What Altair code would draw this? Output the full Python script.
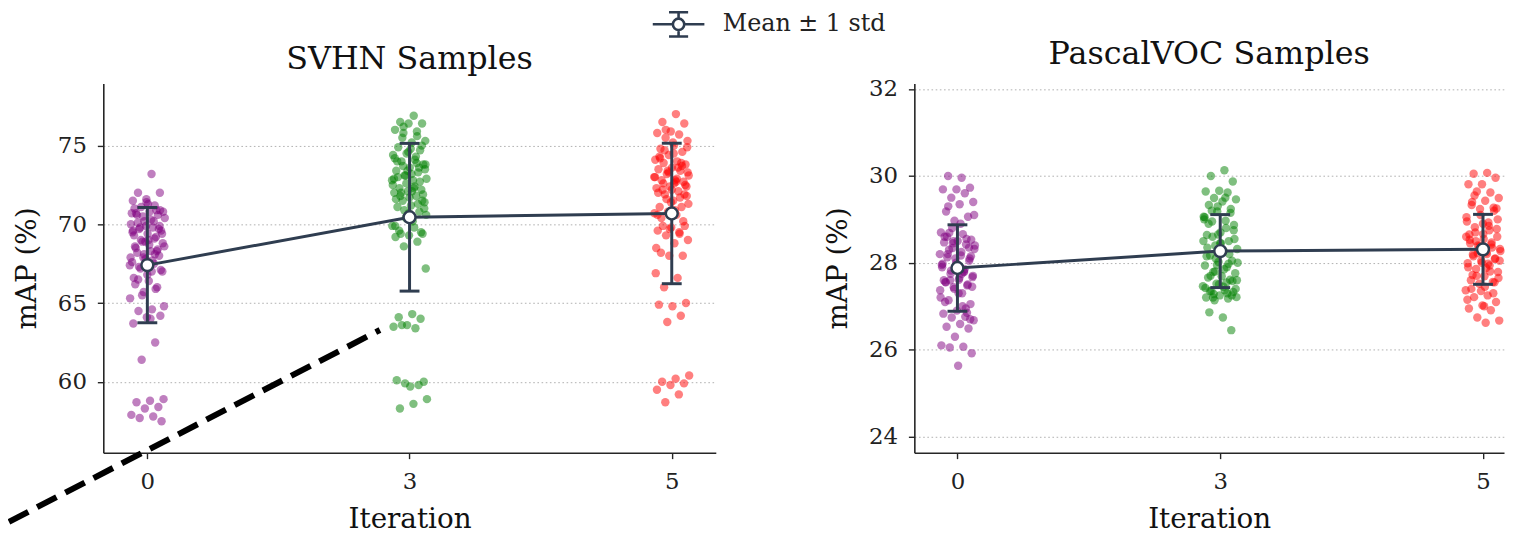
import altair as alt
import pandas as pd

# ---------------- data ----------------
iterations = ["0", "3", "5"]
point_colors = ["#800080", "#008000", "#ff0000"]

svhn_it0 = [73.2, 72.0, 72.0, 71.6, 71.5, 71.2, 71.1, 70.8, 70.8, 70.7, 70.6, 70.2, 70.0, 69.8, 69.7,
            69.6, 69.4, 69.3, 69.2, 68.9, 68.6, 68.3, 68.2, 68.0, 67.8, 67.6, 67.5, 67.2, 67.0, 66.4,
            66.2, 66.0, 65.7, 65.3, 64.6, 64.5, 64.2, 64.1, 63.7, 62.5, 61.4, 58.9, 58.8, 58.7, 58.4,
            58.3, 57.9, 57.8, 57.7, 57.5, 71.3, 71.0, 70.9, 70.5, 70.4, 70.3, 70.1, 69.9, 69.9, 69.5,
            69.1, 69.0, 68.8, 68.7, 68.5, 68.4, 68.1, 67.9, 67.7, 67.3, 67.1, 66.8, 66.6, 65.9, 65.5,
            64.8, 64.0, 70.6, 69.7, 68.9, 70.7, 70.2, 69.8, 69.4, 69.0, 68.6, 68.3, 67.9, 67.4, 67.0,
            66.5, 70.9, 71.4, 69.6, 68.1]
svhn_it3 = [76.9, 76.5, 76.4, 76.4, 76.0, 75.9, 75.8, 75.3, 75.2, 74.9, 74.7, 74.5, 74.4, 74.1, 74.0,
            73.8, 73.6, 73.4, 73.3, 73.1, 72.9, 72.8, 72.3, 72.2, 72.1, 72.0, 71.8, 71.5, 71.4, 71.2,
            71.1, 70.8, 70.4, 69.9, 69.8, 69.4, 69.4, 69.3, 69.2, 68.9, 68.6, 67.2, 64.3, 64.1, 64.0,
            63.6, 63.5, 63.4, 63.6, 60.0, 59.7, 60.1, 59.8, 59.9, 58.9, 58.6, 58.3, 75.0, 74.6, 74.2,
            73.9, 73.7, 73.5, 73.2, 73.0, 72.7, 72.6, 72.5, 72.4, 72.0, 71.9, 71.7, 71.6, 71.3, 70.9,
            70.6, 70.2, 69.6, 69.5, 73.4, 72.9, 74.3, 75.5, 71.0, 74.8, 74.0, 73.6, 73.1, 72.8, 72.3,
            71.8, 71.5, 70.7, 69.9, 75.6, 76.2, 73.8, 72.1]
svhn_it5 = [77.0, 76.5, 76.4, 75.9, 75.8, 75.7, 75.5, 75.3, 75.0, 74.8, 74.6, 74.4, 74.1, 74.0, 73.9,
            73.8, 73.6, 73.5, 73.4, 73.2, 73.1, 72.8, 72.8, 72.7, 72.4, 72.3, 72.1, 71.9, 71.8, 71.5,
            71.1, 71.1, 70.8, 70.7, 70.6, 69.9, 69.9, 69.8, 69.6, 69.4, 69.3, 69.0, 68.8, 68.2, 68.0,
            68.0, 66.9, 66.6, 66.0, 65.0, 64.8, 64.9, 64.2, 63.8, 60.4, 60.2, 60.0, 59.9, 59.8, 59.5,
            59.2, 58.7, 74.9, 74.5, 74.2, 73.7, 73.3, 73.0, 72.9, 72.6, 72.5, 72.2, 72.0, 71.7, 71.6,
            71.3, 70.9, 70.4, 70.2, 69.7, 68.5, 73.6, 74.7, 72.4, 75.2, 74.3, 73.9, 73.4, 73.0, 72.7,
            72.2, 71.9, 71.4, 70.6, 69.5, 76.0, 73.3, 72.6]

voc_it0 = [29.96, 30.0, 29.73, 29.69, 29.69, 29.6, 29.5, 29.4, 29.35, 29.18, 29.06, 28.97, 28.7, 28.66,
           28.69, 28.53, 28.5, 28.47, 28.42, 28.34, 28.32, 28.17, 28.13, 28.05, 27.94, 27.9, 27.79,
           27.75, 27.67, 27.61, 27.56, 27.48, 27.44, 27.37, 27.3, 27.14, 27.05, 26.9, 26.83, 26.76,
           26.74, 26.68, 26.59, 26.53, 26.49, 26.3, 26.1, 26.07, 26.05, 25.92, 25.63, 28.6, 28.55,
           28.45, 28.4, 28.25, 28.2, 28.1, 28.0, 27.98, 27.85, 27.82, 27.7, 27.65, 27.55, 27.5, 27.4,
           27.2, 27.0, 28.3, 28.15, 27.88, 27.6, 26.95, 28.8, 29.1, 28.9, 28.6, 28.35, 28.1, 27.95,
           27.8, 27.6, 27.45, 27.3, 27.1, 26.85, 28.5, 28.2, 27.75, 29.3, 26.7]
voc_it3 = [30.13, 30.0, 29.87, 29.66, 29.64, 29.62, 29.49, 29.46, 29.41, 29.33, 29.24, 29.18, 29.06,
           28.97, 28.95, 28.87, 28.7, 28.64, 28.5, 28.4, 28.32, 28.28, 28.17, 28.05, 28.02, 27.94,
           27.9, 27.79, 27.76, 27.69, 27.66, 27.61, 27.52, 27.46, 27.37, 27.35, 27.33, 27.25, 27.2,
           27.18, 27.14, 27.21, 26.74, 26.86, 26.45, 29.3, 29.0, 28.8, 28.6, 28.55, 28.45, 28.35,
           28.2, 28.1, 28.0, 27.85, 27.7, 27.58, 27.5, 27.42, 27.3, 27.28, 27.4, 28.25, 28.9, 29.15,
           27.95, 28.5, 29.5, 29.2, 28.75, 28.45, 28.15, 27.98, 27.8, 27.6, 27.45, 27.35, 27.25,
           28.65, 29.05, 27.55, 27.2]
voc_it5 = [30.07, 30.05, 29.96, 29.81, 29.81, 29.62, 29.64, 29.49, 29.43, 29.33, 29.27, 29.24, 29.05,
           28.93, 28.82, 28.78, 28.66, 28.53, 28.47, 28.4, 28.32, 28.24, 28.19, 28.09, 28.05, 27.99,
           27.94, 27.86, 27.79, 27.69, 27.6, 27.56, 27.52, 27.37, 27.25, 27.21, 27.1, 27.02, 26.95,
           26.91, 26.74, 26.67, 26.62, 29.4, 29.2, 29.1, 28.95, 28.85, 28.7, 28.6, 28.55, 28.45,
           28.35, 28.3, 28.27, 28.2, 28.15, 28.1, 28.0, 27.9, 27.8, 27.7, 27.65, 27.45, 27.4, 27.3,
           28.38, 28.6, 27.98, 29.55, 29.25, 28.9, 28.65, 28.42, 28.22, 28.05, 27.88, 27.72, 27.55,
           27.35, 27.15, 28.75, 28.5, 29.0, 27.0]

svhn_mean = [67.41, 70.45, 70.69]
svhn_std = [3.66, 4.69, 4.46]
voc_mean = [27.88, 28.27, 28.31]
voc_std = [0.995, 0.84, 0.805]

legend_label = "Mean ± 1 std"

# dashed annotation line in the SVHN panel (x in iteration-slot units, y in mAP)
trend_x = [-0.528, 0.887]
trend_y = [51.11, 63.29]

# ---------------- styling ----------------
DARK = "#2f3d50"
FONT = "DejaVu Serif"
label_expr = "[" + ",".join(f"'{t}'" for t in iterations) + "][datum.value]"


def points_frame(groups):
    rows = []
    for i, (it, vals) in enumerate(zip(iterations, groups)):
        for v in vals:
            rows.append({"iteration": it, "idx": i, "value": v})
    return pd.DataFrame(rows)


def stats_frame(means, stds):
    return pd.DataFrame({
        "iteration": iterations,
        "idx": list(range(len(iterations))),
        "mean": means,
        "lo": [m - s for m, s in zip(means, stds)],
        "hi": [m + s for m, s in zip(means, stds)],
        "series": [legend_label] * len(iterations),
    })


# legend glyph: line through an open circle with a capped vertical bar
# (drawn wider than its layout box: r = 13 px, x spans +-2 r)
SYMBOL = ("M-2,0L-0.44,0M0.44,0L2,0M0,-0.44L0,-0.94M-0.74,-0.94L0.74,-0.94"
          "M0,0.44L0,0.94M-0.74,0.94L0.74,0.94"
          "M-0.44,0A0.44,0.44,0,1,1,0.44,0A0.44,0.44,0,1,1,-0.44,0Z")


def panel(groups, means, stds, title, ydom, yticks, xdom, width, with_extras):
    pts = points_frame(groups)
    st = stats_frame(means, stds)
    xs = alt.Scale(domain=xdom, nice=False, zero=False)
    ys = alt.Scale(domain=ydom, nice=False, zero=False)
    xa = alt.Axis(values=list(range(len(iterations))), labelExpr=label_expr, title="Iteration", grid=False)
    ya = alt.Axis(values=yticks, title="mAP (%)", grid=True)

    points = alt.Chart(pts).transform_window(
        rn="row_number()", groupby=["iteration"]
    ).transform_calculate(
        xj="datum.idx + ((datum.rn * 0.6180339887) % 1 - 0.5) * 0.135"
    ).mark_circle(size=72, opacity=0.5).encode(
        x=alt.X("xj:Q", scale=xs, axis=xa),
        y=alt.Y("value:Q", scale=ys, axis=ya),
        color=alt.Color("iteration:N", scale=alt.Scale(domain=iterations, range=point_colors), legend=None),
    )

    bars = alt.Chart(st).mark_rule(strokeWidth=3, color=DARK).encode(
        x=alt.X("idx:Q", scale=xs, axis=xa),
        y=alt.Y("lo:Q", scale=ys, axis=ya),
        y2="hi:Q",
    )
    cap_lo = alt.Chart(st).mark_point(shape="M-1,0L1,0", size=400, strokeWidth=3, color=DARK,
                                      opacity=1).encode(
        x=alt.X("idx:Q", scale=xs, axis=xa), y=alt.Y("lo:Q", scale=ys, axis=ya))
    cap_hi = alt.Chart(st).mark_point(shape="M-1,0L1,0", size=400, strokeWidth=3, color=DARK,
                                      opacity=1).encode(
        x=alt.X("idx:Q", scale=xs, axis=xa), y=alt.Y("hi:Q", scale=ys, axis=ya))

    line_enc = dict(
        x=alt.X("idx:Q", scale=xs, axis=xa),
        y=alt.Y("mean:Q", scale=ys, axis=ya),
    )
    if with_extras:
        line_enc["stroke"] = alt.Stroke(
            "series:N",
            scale=alt.Scale(domain=[legend_label], range=[DARK]),
            legend=alt.Legend(
                title=None, orient="none", legendX=565, legendY=-74, padding=0,
                symbolType=SYMBOL, symbolSize=676, symbolStrokeWidth=2.6,
                symbolFillColor="white", symbolStrokeColor=DARK,
                labelFont=FONT, labelFontSize=24, labelColor="#222222", labelOffset=30,
                labelLimit=400,
            ),
        )
        line = alt.Chart(st).mark_line(strokeWidth=3).encode(**line_enc)
    else:
        line = alt.Chart(st).mark_line(strokeWidth=3, color=DARK).encode(**line_enc)

    marker = alt.Chart(st).mark_point(shape="circle", size=144, filled=True, fill="white",
                                      stroke=DARK, strokeWidth=2.5, opacity=1).encode(
        x=alt.X("idx:Q", scale=xs, axis=xa), y=alt.Y("mean:Q", scale=ys, axis=ya))

    layers = [points, bars, cap_lo, cap_hi, line, marker]
    if with_extras:
        tr = pd.DataFrame({"x": trend_x, "y": trend_y})
        dash = alt.Chart(tr).mark_line(color="black", strokeWidth=6, strokeDash=[22, 10],
                                       clip=False).encode(
            x=alt.X("x:Q", scale=xs, axis=xa), y=alt.Y("y:Q", scale=ys, axis=ya))
        layers.append(dash)

    return alt.layer(*layers).properties(
        width=width, height=372,
        title=alt.TitleParams(title, fontSize=32, font=FONT, fontWeight="normal", color="#111111",
                              offset=7, anchor="middle"),
    )


left = panel([svhn_it0, svhn_it3, svhn_it5], svhn_mean, svhn_std, "SVHN Samples",
             [55.5, 78.95], [60, 65, 70, 75], [-0.168, 2.168], 617, True)
right = panel([voc_it0, voc_it3, voc_it5], voc_mean, voc_std, "PascalVOC Samples",
              [23.63, 32.13], [24, 26, 28, 30, 32], [-0.164, 2.08], 594, False)

chart = alt.hconcat(left, right, spacing=108).properties(
    padding={"left": -12, "top": 0, "right": 0, "bottom": 0}
).configure_view(
    stroke="transparent"
).configure_axis(
    domainColor="#262626", domainWidth=1.6, tickColor="#262626", tickWidth=1.4, tickSize=6,
    labelFont=FONT, labelFontSize=23, labelColor="#222222",
    titleFont=FONT, titleFontSize=28, titleFontWeight="normal", titleColor="#111111",
    gridColor="#b0b0b0", gridDash=[1.6, 2.6], gridWidth=1,
).configure_axisY(titlePadding=16, labelPadding=11).configure_axisX(titlePadding=12, labelPadding=12)

chart.save("out.html", embed_options={"renderer": "svg", "actions": False})
